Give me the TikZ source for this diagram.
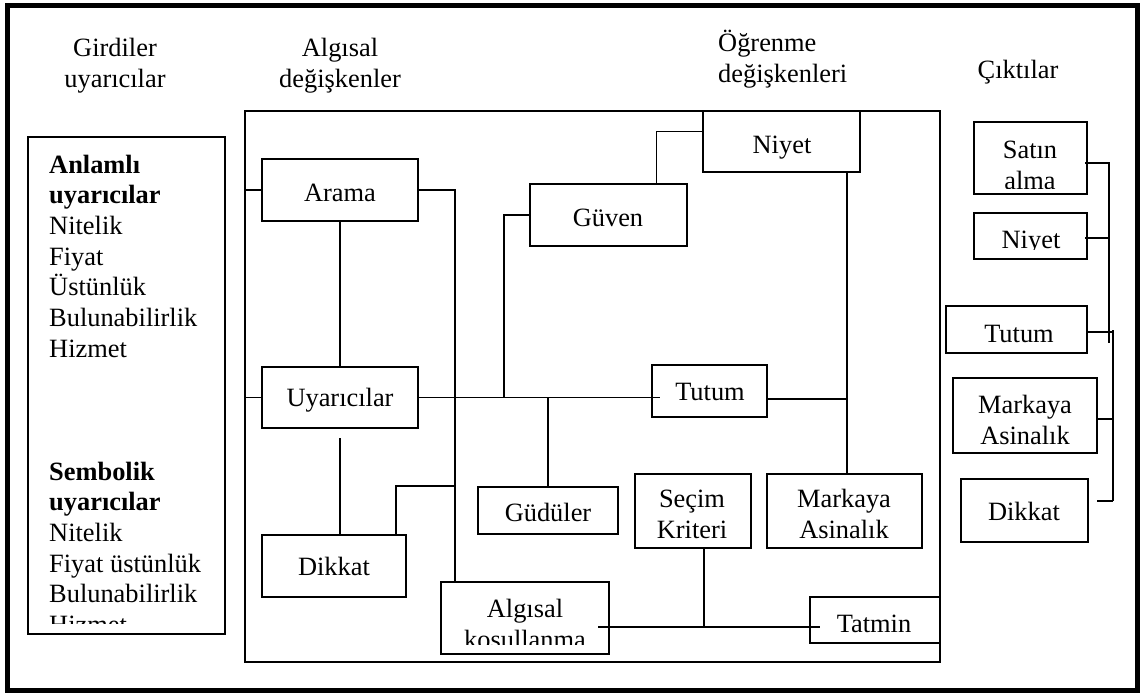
\documentclass[tikz,border=0pt]{standalone}
\usepackage{fontspec}
\setmainfont{Liberation Serif}
\usetikzlibrary{fit,calc}
\begin{document}
\begin{tikzpicture}[x=1pt,y=-1pt,
  box/.style={draw, line width=1.3pt, inner sep=0pt, outer sep=0pt},
  wire/.style={line width=1.3pt},
  txt/.style={font=\fontsize{26.4}{30.7}\selectfont, inner sep=0pt, anchor=base},
  txtl/.style={txt, anchor=base west}]
\useasboundingbox (0,0) rectangle (1146,693);
\fill[white] (0,0) rectangle (1146,693);
\node[draw, line width=5pt, inner sep=0pt, fit={(7.5,5.5) (1137.5,690.5)}] (frame) {};

% column headings
\node[txt] (h1a) at (115,57) {Girdiler};
\node[txt] (h1b) at (115,87.5) {uyarıcılar};
\node[txt] (h2a) at (340,57) {Algısal};
\node[txt] (h2b) at (340,87.5) {değişkenler};
\node[txtl] (h3a) at (718,52) {Öğrenme};
\node[txtl] (h3b) at (718,82.5) {değişkenleri};
\node[txt] (h4) at (1018,78) {Çıktılar};

% inputs
\node[box, fit={(28,137) (225,634)}] (inputs) {};
\foreach \t [count=\i from 0] in {\textbf{Anlamlı}, \textbf{uyarıcılar}, Nitelik, Fiyat, Üstünlük, Bulunabilirlik, Hizmet}
  \node[txtl] (inA\i) at (49,{173+30.7*\i}) {\t};
\foreach \t [count=\i from 0] in {\textbf{Sembolik}, \textbf{uyarıcılar}, Nitelik, Fiyat üstünlük, Bulunabilirlik}
  \node[txtl] (inB\i) at (49,{480+30.7*\i}) {\t};
\begin{scope}
  \clip (28,137) rectangle (225,623);
  \node[txtl] (inB5) at (49,633.5) {Hizmet};
\end{scope}

% perceptual and learning variables
\node[box, fit={(245,111) (940,662)}] (percep) {};
\node[box, fit={(262,159) (418,221)}] (arama) {};
\node[txt] (arama-l) at (340,201) {Arama};
\node[box, fit={(262,367) (418,428)}] (uyar) {};
\node[txt] (uyar-l) at (340,406) {Uyarıcılar};
\node[box, fit={(262,535) (406,597)}] (dikkat) {};
\node[txt] (dikkat-l) at (334,575) {Dikkat};
\node[box, fit={(441,582) (609,654)}] (algk) {};
\node[txt] (algk-l1) at (525,617) {Algısal};
\begin{scope}
  \clip (441,582) rectangle (609,644);
  \node[txt] (algk-l2) at (525,648) {koşullanma};
\end{scope}
\node[box, fit={(530,184) (687,246)}] (guven) {};
\node[txt] (guven-l) at (608,226) {Güven};
\node[box, fit={(703,111) (860,172)}] (niyet) {};
\node[txt] (niyet-l) at (782,153) {Niyet};
\node[box, fit={(652,365) (767,417)}] (tutum) {};
\node[txt] (tutum-l) at (710,400) {Tutum};
\node[box, fit={(478,487) (618,534)}] (guduler) {};
\node[txt] (guduler-l) at (548,521) {Güdüler};
\node[box, fit={(635,474) (751,548)}] (secim) {};
\node[txt] (secim-l1) at (692,507) {Seçim};
\node[txt] (secim-l2) at (692,538) {Kriteri};
\node[box, fit={(767,474) (922,548)}] (markaya) {};
\node[txt] (markaya-l1) at (844,507) {Markaya};
\node[txt] (markaya-l2) at (844,538) {Asinalık};
\node[box, fit={(810,597) (940,643)}] (tatmin) {};
\node[txt] (tatmin-l) at (874,632) {Tatmin};

% outputs
\node[box, fit={(974,122) (1087,194)}] (osatin) {};
\node[txt] (osatin-l1) at (1030,158) {Satın};
\begin{scope}
  \clip (974,122) rectangle (1087,188);
  \node[txt] (osatin-l2) at (1030,189) {alma};
\end{scope}
\node[box, fit={(974,213) (1087,259)}] (oniyet) {};
\begin{scope}
  \clip (974,213) rectangle (1087,249.5);
  \node[txt] (oniyet-l) at (1031,248) {Niyet};
\end{scope}
\node[box, fit={(946,306) (1087,353)}] (otutum) {};
\node[txt] (otutum-l) at (1019,342) {Tutum};
\node[box, fit={(953,378) (1097,453)}] (omark) {};
\node[txt] (omark-l1) at (1025,413) {Markaya};
\begin{scope}
  \clip (953,378) rectangle (1097,444);
  \node[txt] (omark-l2) at (1025,444.5) {Asinalık};
\end{scope}
\node[box, fit={(961,479) (1088,542)}] (odikkat) {};
\node[txt] (odikkat-l) at (1024,520) {Dikkat};

% connectors
\coordinate (busA) at ($(algk.north west)+(14,0)$);
\coordinate (busB) at ($(markaya.north west)+(80,0)$);
\coordinate (busC) at ($(secim.south)+(11,79)$);
\draw[wire] (arama.west) -- (arama.west -| percep.west);
\draw[wire] (uyar.west) -- (uyar.west -| percep.west);
\draw[wire] (arama.east) -| (busA);
\draw[wire] (arama.south) -- (uyar.north);
\draw[wire] ($(uyar.south)+(0,10)$) -- (uyar.south |- dikkat.north);
\draw[wire] ($(dikkat.north east)+(-10,0)$) -- ++(0,-49) -- ++(59,0);
\draw[wire] (uyar.east) -- ($(uyar.east -| tutum.west)+(8,0)$);
\draw[wire] ($(uyar.east)+(86,0)$) |- (guven.west);
\draw[wire] ($(guven.north)+(48,0)$) |- ($(niyet.west)+(0,-10)$);
\draw[wire] (niyet.south -| busB) -- (busB);
\draw[wire] ($(tutum.east)+(0,8)$) -- ($(tutum.east -| busB)+(0,8)$);
\draw[wire] (guduler.north) -- (guduler.north |- uyar.east);
\draw[wire] ($(secim.south)+(11,0)$) -- (busC);
\draw[wire] ($(algk.east)+(-11,9)$) -- ($(tatmin.west)+(10,7)$);

% output bus
\coordinate (rbus1) at (1109,343);
\coordinate (rbus2top) at (1113,330);
\coordinate (rbus2bot) at (1113,501);
\draw[wire] ($(osatin.east)+(-2,5)$) -| (rbus1);
\draw[wire] ($(oniyet.east)+(-2,2)$) -- ($(oniyet.east -| rbus1)+(0,2)$);
\draw[wire] (rbus2top) -- (rbus2bot);
\draw[wire] ($(otutum.east)+(0,2.5)$) -- ($(otutum.east -| rbus2top)+(0,2.5)$);
\draw[wire] ($(omark.east)+(0,3.5)$) -- ($(omark.east -| rbus2top)+(0,3.5)$);
\draw[wire] ($(odikkat.east)+(9,-9.5)$) -- (rbus2bot);
\end{tikzpicture}
\end{document}
